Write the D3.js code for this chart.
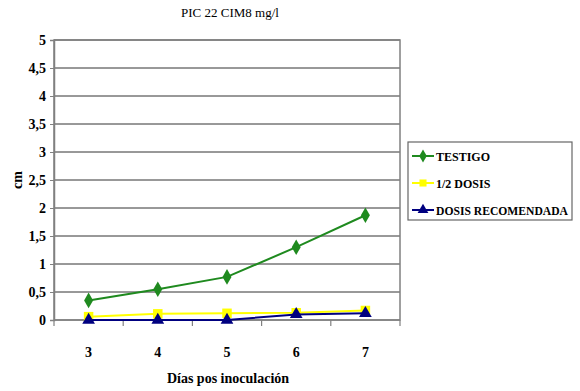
<!DOCTYPE html>
<html>
<head>
<meta charset="utf-8">
<script src="https://cdn.jsdelivr.net/npm/d3@7"></script>
<style>
  body { margin: 0; background: #fff; }
</style>
</head>
<body>
<div id="chart"></div>
<script>
var days = [3, 4, 5, 6, 7];
var testigo = [0.35, 0.55, 0.77, 1.3, 1.87];
var mediaDosis = [0.06, 0.11, 0.12, 0.13, 0.17];
var dosisRecomendada = [0, 0, 0, 0.1, 0.12];
var yTicks = [0, 0.5, 1, 1.5, 2, 2.5, 3, 3.5, 4, 4.5, 5];

var series = [
  { name: "TESTIGO", values: testigo, color: "#1f8a1f", symbol: d3.symbolDiamond },
  { name: "1/2 DOSIS", values: mediaDosis, color: "#ffff00", symbol: d3.symbolSquare },
  { name: "DOSIS RECOMENDADA", values: dosisRecomendada, color: "#000080", symbol: d3.symbolTriangle }
];

var font = "'Times New Roman', Tinos, 'Liberation Serif', 'DejaVu Serif', 'Noto Serif', serif";
var width = 580, height = 391;
var plotLeft = 54, plotRight = 400, plotTop = 40, plotBottom = 320;

var svg = d3.select("#chart").append("svg")
  .attr("width", width).attr("height", height)
  .style("font-family", font);

var x = d3.scaleBand().domain(days).range([plotLeft, plotRight]);
var y = d3.scaleLinear().domain([0, 5]).range([plotBottom, plotTop]);

// gridlines
svg.append("g").selectAll("line").data(yTicks.slice(1)).enter().append("line")
  .attr("x1", plotLeft).attr("x2", plotRight)
  .attr("y1", function(d) { return y(d); }).attr("y2", function(d) { return y(d); })
  .attr("stroke", "#333").attr("stroke-width", 1);

// plot border
svg.append("rect")
  .attr("x", plotLeft).attr("y", plotTop).attr("width", plotRight - plotLeft).attr("height", plotBottom - plotTop)
  .attr("fill", "none").attr("stroke", "#808080").attr("stroke-width", 1.5);

// y axis
var yAxis = svg.append("g").attr("transform", "translate(" + plotLeft + ",0)")
  .call(d3.axisLeft(y).tickValues(yTicks).tickSize(4).tickPadding(4)
    .tickFormat(function(d) { return String(d).replace(".", ","); }));
yAxis.attr("font-family", null);
yAxis.select(".domain").attr("stroke", "#808080").attr("stroke-width", 1.5);
yAxis.selectAll(".tick line").attr("stroke", "#808080");
yAxis.selectAll("text").attr("font-size", 14).attr("font-weight", "bold").attr("fill", "#000")
  .style("font-family", font);

// x axis: ticks on category boundaries
var xg = svg.append("g").attr("transform", "translate(0," + plotBottom + ")");
xg.append("line").attr("x1", plotLeft).attr("x2", plotRight).attr("stroke", "#808080").attr("stroke-width", 1.5);
var bounds = days.map(function(d) { return x(d); }).concat([plotRight]);
xg.selectAll("line.tk").data(bounds).enter().append("line").attr("class", "tk")
  .attr("x1", function(d) { return d; }).attr("x2", function(d) { return d; })
  .attr("y1", 0).attr("y2", 6).attr("stroke", "#808080").attr("stroke-width", 1.2);
xg.selectAll("text").data(days).enter().append("text")
  .attr("x", function(d) { return x(d) + x.bandwidth() / 2; })
  .attr("y", 37).attr("text-anchor", "middle")
  .attr("font-size", 14).attr("font-weight", "bold")
  .text(function(d) { return d; });

// lines and markers
var line = d3.line()
  .x(function(d, i) { return x(days[i]) + x.bandwidth() / 2; })
  .y(function(d) { return y(d); });

series.forEach(function(s) {
  svg.append("path").datum(s.values)
    .attr("d", line).attr("fill", "none")
    .attr("stroke", s.color).attr("stroke-width", 2);
  svg.append("g").selectAll("path").data(s.values).enter().append("path")
    .attr("d", d3.symbol().type(s.symbol).size(s.symbol === d3.symbolSquare ? 90 : 70))
    .attr("transform", function(d, i) {
      return "translate(" + (x(days[i]) + x.bandwidth() / 2) + "," + y(d) + ")";
    })
    .attr("fill", s.color);
});

// title and axis labels
svg.append("text").attr("x", 230).attr("y", 17).attr("text-anchor", "middle")
  .attr("font-size", 13).text("PIC 22 CIM8 mg/l");
svg.append("text").attr("x", 228).attr("y", 383).attr("text-anchor", "middle")
  .attr("font-size", 14).attr("font-weight", "bold").text("Días pos inoculación");
svg.append("text").attr("transform", "translate(22,180) rotate(-90)")
  .attr("text-anchor", "middle").attr("font-size", 14).attr("font-weight", "bold").text("cm");

// legend
var legend = svg.append("g");
legend.append("rect").attr("x", 408).attr("y", 142).attr("width", 164).attr("height", 78)
  .attr("fill", "#fff").attr("stroke", "#666").attr("stroke-width", 1.2);
var item = legend.selectAll("g.item").data(series).enter().append("g").attr("class", "item")
  .attr("transform", function(d, i) { return "translate(412," + (156 + i * 27) + ")"; });
item.append("line").attr("x1", 0).attr("x2", 22).attr("stroke", function(d) { return d.color; })
  .attr("stroke-width", 2);
item.append("path").attr("transform", "translate(11,0)")
  .attr("d", function(d) { return d3.symbol().type(d.symbol).size(50)(); })
  .attr("fill", function(d) { return d.color; });
item.append("text").attr("x", 24).attr("y", 4.5).attr("font-size", 12).attr("font-weight", "bold")
  .attr("textLength", function(d) { return d.name.length > 12 ? 132 : null; })
  .attr("lengthAdjust", "spacingAndGlyphs")
  .text(function(d) { return d.name; });
</script>
</body>
</html>
